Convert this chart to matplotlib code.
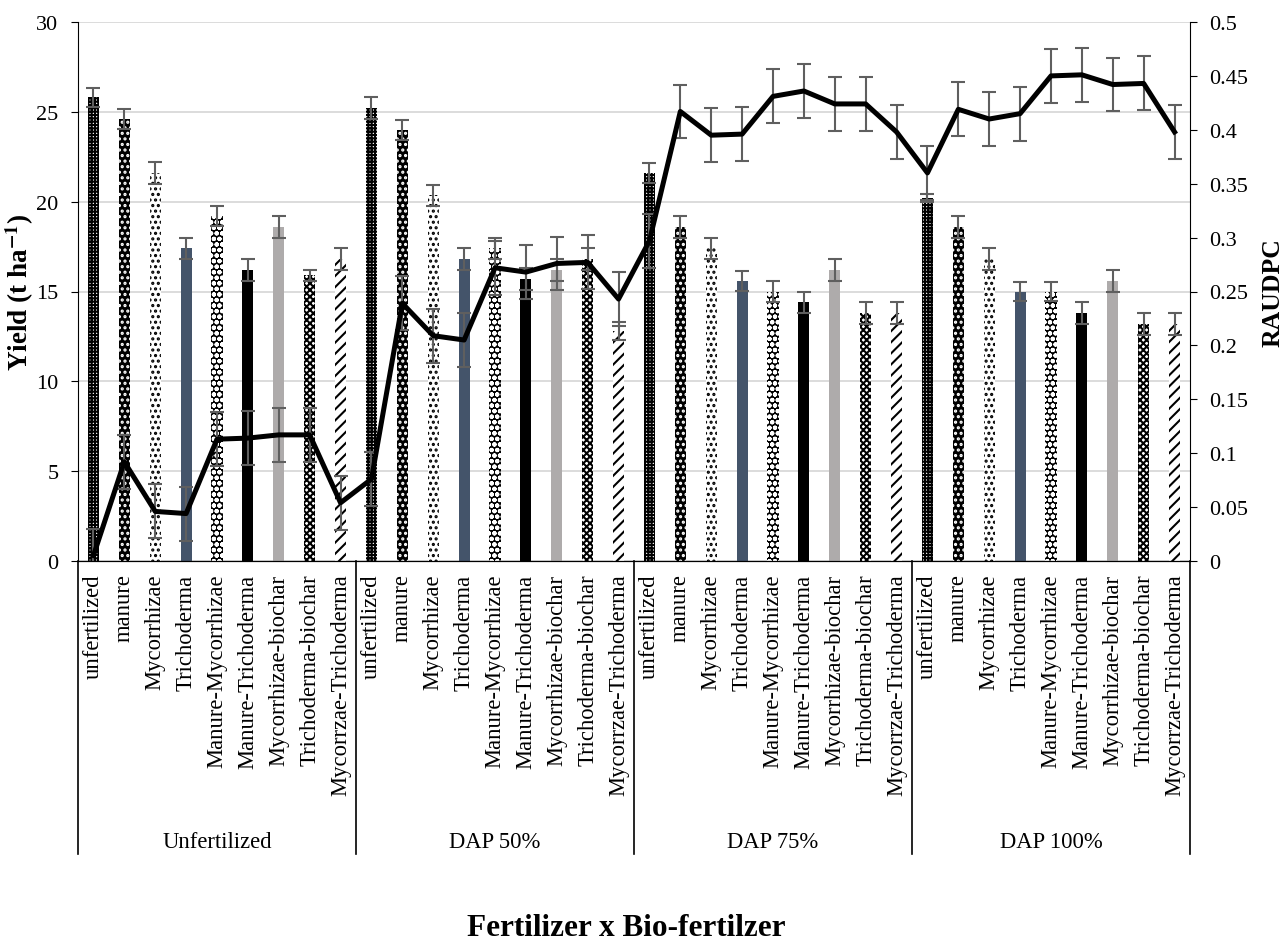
import matplotlib
matplotlib.use("Agg")
import matplotlib.pyplot as plt
import numpy as np

plt.rcParams['font.family'] = ['Liberation Serif', 'DejaVu Serif']
plt.rcParams['mathtext.fontset'] = 'stix'
plt.rcParams['hatch.linewidth'] = 1.5

treatments = ["unfertilized", "manure", "Mycorrhizae", "Trichoderma", "Manure-Mycorrhizae",
              "Manure-Trichoderma", "Mycorrhizae-biochar", "Trichoderma-biochar", "Mycorrzae-Trichoderma"]
groups = ["Unfertilized", "DAP 50%", "DAP 75%", "DAP 100%"]

yield_unf = [25.8, 24.6, 21.6, 17.4, 19.2, 16.2, 18.6, 15.9, 16.8]
yield_d50 = [25.2, 24.0, 20.35, 16.8, 17.4, 15.7, 16.2, 16.8, 12.8]
yield_d75 = [21.6, 18.6, 17.4, 15.6, 15.0, 14.4, 16.2, 13.8, 13.8]
yield_d100 = [20.2, 18.6, 16.8, 15.0, 15.0, 13.8, 15.6, 13.2, 13.2]

yerr_unf = [0.55, 0.55, 0.6, 0.6, 0.55, 0.6, 0.6, 0.3, 0.6]
yerr_d50 = [0.6, 0.55, 0.57, 0.6, 0.6, 0.6, 0.6, 0.6, 0.5]
yerr_d75 = [0.55, 0.6, 0.6, 0.55, 0.6, 0.6, 0.6, 0.6, 0.6]
yerr_d100 = [0.2, 0.6, 0.6, 0.55, 0.55, 0.6, 0.6, 0.6, 0.6]

raudpc_unf = [0.005, 0.092, 0.046, 0.044, 0.113, 0.114, 0.117, 0.117, 0.054]
raudpc_d50 = [0.076, 0.239, 0.209, 0.205, 0.272, 0.268, 0.276, 0.277, 0.243]
raudpc_d75 = [0.297, 0.417, 0.395, 0.396, 0.431, 0.436, 0.424, 0.424, 0.398]
raudpc_d100 = [0.360, 0.419, 0.410, 0.415, 0.450, 0.451, 0.442, 0.443, 0.398]
raudpc_err = 0.025

yields = yield_unf + yield_d50 + yield_d75 + yield_d100
yerrs = yerr_unf + yerr_d50 + yerr_d75 + yerr_d100
raudpc = raudpc_unf + raudpc_d50 + raudpc_d75 + raudpc_d100
labels = treatments * 4

# styles per treatment: (facecolor, hatchcolor, hatch)
styles = [
    ("white", "black", "+++++"),
    ("black", "white", "..."),
    ("white", "black", "..."),
    ("#44546A", None, None),
    ("black", "white", "ooo"),
    ("black", None, None),
    ("#AEABAB", None, None),
    ("white", "black", "xxxxx"),
    ("white", "black", "///"),
]

fig = plt.figure(figsize=(12.87, 9.45), dpi=100)
ax = fig.add_axes([78/1287, 1-562/945, (1190-78)/1287, (562-23)/945])
x = np.arange(len(yields))

for i, (xi, v) in enumerate(zip(x, yields)):
    fc, hc, h = styles[i % 9]
    if h is None:
        ax.bar(xi, v, width=0.36, color=fc, linewidth=0, zorder=2)
    else:
        ax.bar(xi, v, width=0.36, facecolor=fc, edgecolor=hc, hatch=h, linewidth=0, zorder=2)
ax.errorbar(x, yields, yerr=yerrs, fmt='none', ecolor='#5f5f5f', elinewidth=1.5,
            capsize=5, capthick=1.5, zorder=3)

ax.set_xlim(-0.5, len(yields) - 0.5)
ax.set_ylim(0, 30)
ax.set_yticks(np.arange(0, 31, 5))
ax.yaxis.grid(True, color='#D9D9D9', linewidth=1.3, zorder=0)
ax.set_axisbelow(True)
ax.set_xticks(x)
ax.set_xticklabels(labels, rotation=90, fontsize=16.3, va='top', ha='center')
ax.tick_params(axis='x', length=0, pad=9)
ax.tick_params(axis='y', labelsize=16, length=5, direction='out', pad=9)
ax.spines['top'].set_visible(False)
ax.spines['right'].set_visible(False)
ax.set_ylabel("Yield (t ha$^{\\mathbf{-1}}$)", fontsize=19.5, fontweight='bold')
ax.yaxis.set_label_coords(-(78-36)/1112, 0.5)

ax2 = ax.twinx()
ax2.set_ylim(0, 0.5)
ax2.set_yticks(np.arange(0, 0.501, 0.05))
ax2.set_yticklabels(["0", "0.05", "0.1", "0.15", "0.2", "0.25", "0.3", "0.35", "0.4", "0.45", "0.5"])
ax2.tick_params(axis='y', labelsize=16, length=5, direction='out', pad=9)
ax2.spines['top'].set_visible(False)
ax2.spines['left'].set_visible(False)
ax2.errorbar(x, raudpc, yerr=raudpc_err, fmt='none', ecolor='#5f5f5f', elinewidth=1.5,
             capsize=5, capthick=1.5, zorder=3)
ax2.plot(x, raudpc, color='black', linewidth=3.6, zorder=4, solid_joinstyle='round')
ax2.set_ylabel("RAUDPC", fontsize=18.5, fontweight='bold')
ax2.yaxis.set_label_coords(1 + (1262-1190)/1112, 0.5)

# group separators and labels
trans = matplotlib.transforms.blended_transform_factory(ax.transData, ax.transAxes)
ybot = -(855-562)/539
for b in [-0.5, 8.5, 17.5, 26.5, 35.5]:
    ax.plot([b, b], [0, ybot], transform=trans, color='black', linewidth=1.2, clip_on=False)
for gi, g in enumerate(groups):
    ax.text(gi*9 + 4, -(842-562)/539, g, transform=trans, ha='center', va='center', fontsize=16.3)

fig.text(626/1287, 1-936/945, "Fertilizer x Bio-fertilzer", ha='center', va='baseline',
         fontsize=22.5, fontweight='bold')

fig.savefig("out.png", dpi=100)
